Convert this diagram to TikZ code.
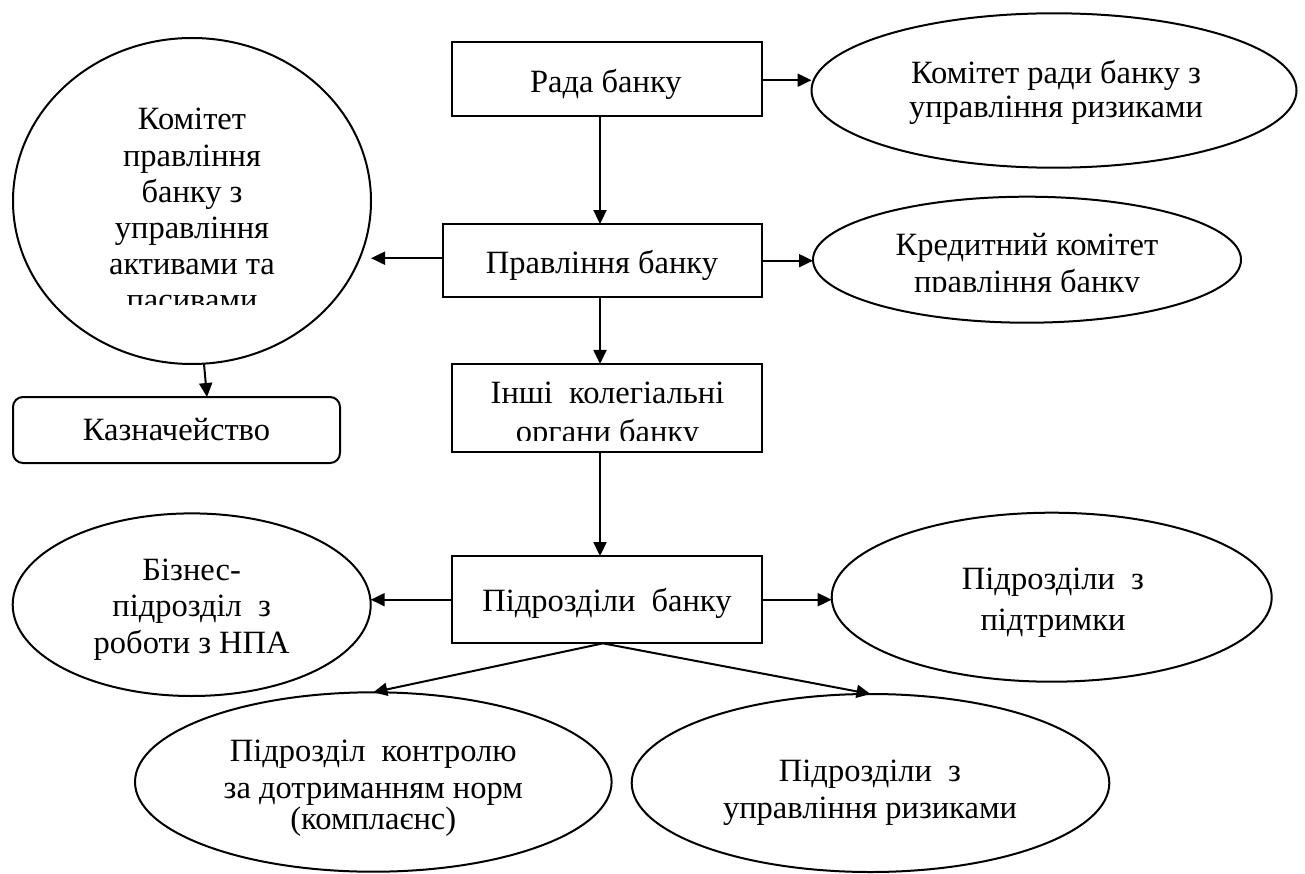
\documentclass[tikz,border=0pt]{standalone}
\usepackage{fontspec}
\setmainfont{Liberation Serif}
\usetikzlibrary{shapes.geometric,arrows.meta}
\begin{document}
\begin{tikzpicture}[x=1pt,y=-1pt,line width=2pt,
  box/.style={draw,rectangle,inner sep=0pt,outer sep=0pt},
  oval/.style={draw,ellipse,inner sep=0pt,outer sep=0pt},
  txt/.style={font=\fontsize{32.5}{#1}\selectfont,align=center,anchor=base,inner sep=0pt},
  txt/.default=36.5,
  arr/.style={-{Triangle[length=14pt,width=13pt]},line width=2pt}]
\useasboundingbox (0,0) rectangle (1305,874);

% boxes
\node[box,minimum width=310.6pt,minimum height=73.7pt] (rada) at (607,79.2) {};
\node[txt] (radat) at (605.8,92.3) {Рада банку};

\node[box,minimum width=319pt,minimum height=73.3pt] (pravl) at (602.8,260.7) {};
\node[txt] (pravlt) at (602,274) {Правління банку};

\node[box,minimum width=310.6pt,minimum height=87.7pt] (inshi) at (607,407.8) {};
\begin{scope}
  \clip (0,300) rectangle (1305,440);
  \node[txt=39] (inshit) at (607.5,442.3) {Інші~ колегіальні\\органи банку};
\end{scope}

\node[box,minimum width=310.6pt,minimum height=87.3pt] (pidr) at (607,599.7) {};
\node[txt] (pidrt) at (607,611.7) {Підрозділи~ банку};

\node[box,rounded corners=10pt,minimum width=327pt,minimum height=66pt] (kazn) at (176.5,430) {};
\node[txt] (kaznt) at (176.5,440) {Казначейство};

% ellipses
\node[oval,minimum width=485pt,minimum height=154.4pt] (komradi) at (1054,90.5) {};
\node[txt=34] (komradit) at (1056,117.3) {Комітет ради банку з\\управління ризиками};

\node[oval,minimum width=428pt,minimum height=126pt] (kredyt) at (1027,259.7) {};
\begin{scope}
  \clip (700,150) rectangle (1305,292);
  \node[txt=37] (kredytt) at (1027,293) {Кредитний комітет\\правління банку};
\end{scope}

\node[oval,minimum width=358pt,minimum height=326pt] (komprav) at (192,201) {};
\begin{scope}
  \clip (0,0) rectangle (420,305);
  \node[txt=36.2] (kompravt) at (192,311) {Комітет\\правління\\банку з\\управління\\активами та\\пасивами};
\end{scope}

\node[oval,minimum width=358pt,minimum height=182.6pt] (biznes) at (191.7,604.7) {};
\node[txt] (biznest) at (191.7,653) {Бізнес-\\підрозділ~ з\\роботи з НПА};

\node[oval,minimum width=440pt,minimum height=169pt] (pidtr) at (1051.7,597.2) {};
\node[txt=40.7] (pidtrt) at (1053,630) {Підрозділи~ з\\підтримки};

\node[oval,minimum width=476.6pt,minimum height=179.4pt] (compl) at (373.3,782) {};
\node[txt=34] (complt) at (373.3,829.2) {Підрозділ~ контролю\\[2.5pt]за дотриманням норм\\[-3pt](комплаєнс)};

\node[oval,minimum width=477.6pt,minimum height=178pt] (rizyky) at (870.5,783) {};
\node[txt=36.7] (rizykyt) at (870,818.4) {Підрозділи~ з\\управління ризиками};

% connectors
\draw[arr] ([xshift=-7pt]rada.south) -- ([xshift=-7pt]rada.south |- pravl.north);
\draw[arr] ([yshift=-1pt]rada.east) -- ([yshift=-1pt]rada.east -| komradi.west);
\draw[arr] (pravl.east) -- (pravl.east -| kredyt.west);
\draw[arr] ([yshift=2.5pt]pravl.west) -- ([yshift=2.5pt]pravl.west -| komprav.east);
\draw[arr] ([xshift=-2.8pt]pravl.south) -- ([xshift=-2.8pt]pravl.south |- inshi.north);
\draw[arr] ([xshift=-7pt]inshi.south) -- ([xshift=-7pt]inshi.south |- pidr.north);
\draw[arr] ([xshift=12pt]komprav.south) -- ([xshift=30.5pt]kazn.north);
\draw[arr] (pidr.west) -- (pidr.west -| biznes.east);
\draw[arr] (pidr.east) -- (pidr.east -| pidtr.west);
\draw[arr] ([xshift=-4pt]pidr.south) -- (compl.north);
\draw[arr] ([xshift=-4pt]pidr.south) -- (rizyky.north);
\end{tikzpicture}
\end{document}
